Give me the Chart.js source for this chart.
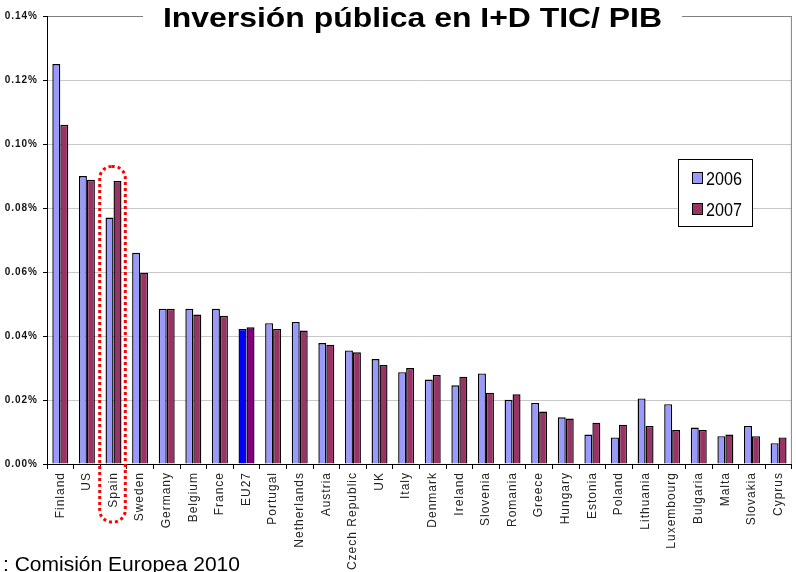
<!DOCTYPE html>
<html>
<head>
<meta charset="utf-8">
<script src="https://cdn.jsdelivr.net/npm/chart.js@4.4.1/dist/chart.umd.min.js"></script>
<style>
  body { margin: 0; background: #fff; }
  #wrap { width: 796px; height: 572px; position: relative; }
</style>
</head>
<body>
<div id="wrap"><canvas id="chart"></canvas></div>
<script>
// data (% of GDP)
const countries = ["Finland", "US", "Spain", "Sweden", "Germany", "Belgium", "France", "EU27",
    "Portugal", "Netherlands", "Austria", "Czech Republic", "UK", "Italy", "Denmark", "Ireland",
    "Slovenia", "Romania", "Greece", "Hungary", "Estonia", "Poland", "Lithuania", "Luxembourg",
    "Bulgaria", "Malta", "Slovakia", "Cyprus"];
const years = ["2006", "2007"];
const values2006 = [0.125, 0.090, 0.077, 0.066, 0.0485, 0.0485, 0.0485, 0.0422, 0.044, 0.0444,
    0.0378, 0.0355, 0.0328, 0.0287, 0.0264, 0.0246, 0.0283, 0.0201, 0.0191, 0.0146, 0.0092,
    0.0083, 0.0205, 0.0187, 0.0114, 0.0087, 0.0119, 0.0065];
const values2007 = [0.106, 0.0888, 0.0884, 0.0598, 0.0485, 0.0467, 0.0463, 0.0427, 0.0422, 0.0417,
    0.0373, 0.0349, 0.0309, 0.0300, 0.0278, 0.0273, 0.0223, 0.0218, 0.0164, 0.0142, 0.0129,
    0.0123, 0.0119, 0.0106, 0.0106, 0.0092, 0.0087, 0.0083];
const highlighted = "EU27";
const circled = "Spain";
const titleText = "Inversión pública en I+D TIC/ PIB";
const sourceText = ": Comisión Europea 2010";

const blue = "#9999ff", maroon = "#993366";
const colors2006 = countries.map(c => c === highlighted ? "#0000ff" : blue);
const colors2007 = countries.map(c => c === highlighted ? "#800080" : maroon);

// letter spacing for the axis labels (old Excel look)
const spacing = {
    id: "spacing",
    beforeDraw(chart) { chart.ctx.letterSpacing = "1px"; }
};

// draw text squeezed/stretched to a given width
function fitText(ctx, text, x, y, width, align) {
    const w = ctx.measureText(text).width;
    ctx.save();
    ctx.translate(x, y);
    ctx.scale(width / w, 1);
    ctx.textAlign = align;
    ctx.fillText(text, 0, 0);
    ctx.restore();
}

// title over the top line, legend box, red dotted ring, source note
const decorations = {
    id: "decorations",
    afterDraw(chart) {
        const ctx = chart.ctx;
        const area = chart.chartArea;
        const x = chart.scales.x, y = chart.scales.y;
        ctx.save();
        ctx.letterSpacing = "0px";
        ctx.textBaseline = "alphabetic";

        // right border of the plot
        ctx.strokeStyle = "#808080";
        ctx.lineWidth = 1;
        ctx.beginPath();
        ctx.moveTo(area.right - 0.5, area.top);
        ctx.lineTo(area.right - 0.5, area.bottom);
        ctx.stroke();

        // title
        ctx.fillStyle = "#fff";
        ctx.fillRect(143, 0, 539, 34);
        ctx.fillStyle = "#000";
        ctx.font = "bold 28px 'Liberation Sans', Arial, sans-serif";
        fitText(ctx, titleText, 412.5, 27, 499, "center");

        // legend
        const lx = 678, ly = 159, lw = 74, lh = 67;
        ctx.fillStyle = "#fff";
        ctx.fillRect(lx, ly, lw, lh);
        ctx.strokeStyle = "#000";
        ctx.lineWidth = 1;
        ctx.strokeRect(lx + 0.5, ly + 0.5, lw, lh);
        ctx.font = "19px 'Liberation Sans', Arial, sans-serif";
        chart.data.datasets.forEach((ds, i) => {
            const top = ly + 13 + i * 31;
            ctx.fillStyle = i === 0 ? blue : maroon;
            ctx.fillRect(692, top, 10, 11);
            ctx.strokeStyle = "#000";
            ctx.strokeRect(692.5, top + 0.5, 10, 11);
            ctx.fillStyle = "#000";
            fitText(ctx, ds.label, 706, top + 13, 36, "left");
        });

        // red dotted ring around Spain
        const idx = countries.indexOf(circled);
        const cx = x.getPixelForValue(idx);
        const half = x.width / countries.length / 2;
        const left = cx - half - 0.5, right = cx + half - 1.5;
        const top = y.getPixelForValue(0.093), bottom = area.bottom + 58;
        ctx.strokeStyle = "#ff0000";
        ctx.lineWidth = 3;
        ctx.setLineDash([3, 3]);
        ctx.beginPath();
        ctx.roundRect(left, top, right - left, bottom - top, 12);
        ctx.stroke();
        ctx.setLineDash([]);

        // source note
        ctx.fillStyle = "#000";
        ctx.font = "21px 'Liberation Sans', Arial, sans-serif";
        ctx.textAlign = "left";
        ctx.fillText(sourceText, 3, 571);
        ctx.restore();
    }
};

new Chart(document.getElementById("chart"), {
    type: "bar",
    data: {
        labels: countries,
        datasets: [{
            label: years[0],
            data: values2006,
            backgroundColor: colors2006,
            borderColor: "#000",
            borderWidth: 1.4,
            inflateAmount: 0,
            categoryPercentage: 0.6,
            barPercentage: 1.0
        }, {
            label: years[1],
            data: values2007,
            backgroundColor: colors2007,
            borderColor: "#000",
            borderWidth: 1.4,
            inflateAmount: 0,
            categoryPercentage: 0.6,
            barPercentage: 1.0
        }]
    },
    options: {
        responsive: true,
        maintainAspectRatio: false,
        animation: false,
        layout: { padding: { top: 16, right: 1, left: 0, bottom: 0 } },
        plugins: {
            legend: { display: false },
            title: { display: false },
            tooltip: { enabled: false }
        },
        scales: {
            x: {
                afterFit(scale) { scale.height = 108; },
                border: { display: true, color: "#000", width: 1 },
                grid: { drawOnChartArea: false, drawTicks: true, tickLength: 5, tickColor: "#000", offset: true },
                ticks: {
                    autoSkip: false,
                    maxRotation: 90,
                    minRotation: 90,
                    padding: 3,
                    color: "#222",
                    font: { family: "'Liberation Sans', Arial, sans-serif", size: 12 }
                }
            },
            y: {
                min: 0,
                max: 0.14,
                afterFit(scale) { scale.width = 47; },
                border: { display: true, color: "#000", width: 1 },
                grid: {
                    color: c => (c.tick && c.tick.value >= 0.139) ? "#808080" : "#c8c8c8",
                    lineWidth: 1,
                    tickLength: 4,
                    tickColor: "#000"
                },
                ticks: {
                    stepSize: 0.02,
                    padding: 5,
                    color: "#111",
                    font: { family: "'Liberation Sans', Arial, sans-serif", size: 10, weight: "bold" },
                    callback: v => v.toFixed(2) + "%"
                }
            }
        }
    },
    plugins: [spacing, decorations]
});
</script>
</body>
</html>
